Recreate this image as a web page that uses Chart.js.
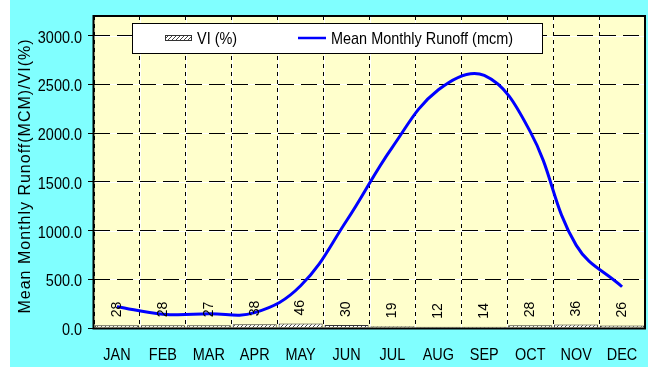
<!DOCTYPE html>
<html>
<head>
<meta charset="utf-8">
<script src="https://cdn.jsdelivr.net/npm/chart.js@4.4.1/dist/chart.umd.min.js"></script>
<style>
  html, body { margin: 0; padding: 0; background: #ffffff; }
  canvas { display: block; }
</style>
</head>
<body>
<canvas id="c" width="648" height="367"></canvas>
<script>
// Monthly categories
const months = ['JAN', 'FEB', 'MAR', 'APR', 'MAY', 'JUN', 'JUL', 'AUG', 'SEP', 'OCT', 'NOV', 'DEC'];
// Variability index per month (%)
const viPercent = [28, 28, 27, 38, 46, 30, 19, 12, 14, 28, 36, 26];
// Mean monthly runoff (mcm)
const runoffMcm = [218, 142, 146, 158, 433, 1100, 1856, 2443, 2590, 2014, 850, 423];
// Value axis ticks
const yTickValues = [0, 500, 1000, 1500, 2000, 2500, 3000];

const FONT = "'Liberation Sans', Arial, sans-serif";
const NARROW = 0.85;          // horizontal squeeze for the tall, narrow lettering
const CYAN = '#80ffff';
const PLOT_BG = '#ffffcc';

const canvas = document.getElementById('c');
const ctx = canvas.getContext('2d');

// Diagonal hatch used for the VI bars
function makeHatch() {
  const p = document.createElement('canvas');
  p.width = 4; p.height = 4;
  const g = p.getContext('2d');
  g.fillStyle = '#ffffff';
  g.fillRect(0, 0, 4, 4);
  g.strokeStyle = '#444444';
  g.lineWidth = 1;
  g.beginPath();
  g.moveTo(0, 4); g.lineTo(4, 0);
  g.moveTo(-1, 1); g.lineTo(1, -1);
  g.moveTo(3, 5); g.lineTo(5, 3);
  g.stroke();
  return ctx.createPattern(p, 'repeat');
}
const hatch = makeHatch();

// Text with a horizontal squeeze
function squeezed(c, text, x, y, align, size, sx) {
  c.save();
  c.translate(x, y);
  c.scale(sx, 1);
  c.font = size + 'px ' + FONT;
  c.textAlign = align;
  c.textBaseline = 'alphabetic';
  c.fillText(text, 0, 0);
  c.restore();
}

const decor = {
  id: 'decor',
  beforeDraw(chart) {
    const c = chart.ctx, a = chart.chartArea;
    c.save();
    c.fillStyle = '#ffffff';
    c.fillRect(0, 0, chart.width, chart.height);
    c.fillStyle = CYAN;
    c.fillRect(10, 0, chart.width - 10, chart.height);
    c.fillStyle = PLOT_BG;
    c.fillRect(a.left, a.top, a.right - a.left, a.bottom - a.top);
    // white underlay so the dashed grid shows white gaps
    c.strokeStyle = '#ffffff';
    c.lineWidth = 1;
    const ys = chart.scales.y, xs = chart.scales.x;
    yTickValues.forEach(v => {
      const py = Math.round(ys.getPixelForValue(v)) + 0.5;
      c.beginPath(); c.moveTo(a.left, py); c.lineTo(a.right, py); c.stroke();
    });
    for (let i = 1; i < months.length; i++) {
      const px = Math.round((xs.getPixelForValue(i - 1) + xs.getPixelForValue(i)) / 2) + 0.5;
      c.beginPath(); c.moveTo(px, a.top); c.lineTo(px, a.bottom); c.stroke();
    }
    c.restore();
  },
  afterDatasetsDraw(chart) {
    const c = chart.ctx, a = chart.chartArea;
    const ys = chart.scales.y, xs = chart.scales.x;
    c.save();
    c.fillStyle = '#000000';

    // rotated VI value labels above each bar
    const meta = chart.getDatasetMeta(0);
    meta.data.forEach((el, i) => {
      c.save();
      c.translate(el.x, el.y - 8);
      c.rotate(-Math.PI / 2);
      c.font = '14px ' + FONT;
      c.textAlign = 'left';
      c.textBaseline = 'middle';
      c.fillText(String(viPercent[i]), 0, 0);
      c.restore();
    });

    // legend box
    c.fillStyle = '#ffffff';
    c.fillRect(132, 23, 410, 30);
    c.strokeStyle = '#000000';
    c.lineWidth = 1;
    c.strokeRect(132.5, 23.5, 410, 30);
    c.fillStyle = hatch;
    c.fillRect(165, 35, 27, 6);
    c.strokeStyle = '#333333';
    c.strokeRect(165.5, 35.5, 26, 5);
    c.fillStyle = '#000000';
    squeezed(c, 'VI (%)', 197, 44, 'left', 17, NARROW);
    c.strokeStyle = '#0000ff';
    c.lineWidth = 2.5;
    c.beginPath(); c.moveTo(298, 38); c.lineTo(326, 38); c.stroke();
    squeezed(c, 'Mean Monthly Runoff (mcm)', 331, 44, 'left', 17, NARROW);

    // plot frame
    c.strokeStyle = '#000000';
    c.lineWidth = 2;
    c.strokeRect(a.left - 0.5, a.top, a.right - a.left + 0.5, a.bottom - a.top + 0.5);

    // axis tick labels
    yTickValues.forEach(v => {
      squeezed(c, v.toFixed(1), a.left - 12, Math.round(ys.getPixelForValue(v)) + 6.5, 'right', 17, NARROW);
    });
    months.forEach((m, i) => {
      squeezed(c, m, xs.getPixelForValue(i), 360, 'center', 17, NARROW);
    });

    // vertical axis title
    c.save();
    c.translate(30, 176);
    c.rotate(-Math.PI / 2);
    c.font = '16px ' + FONT;
    c.letterSpacing = '1px';
    c.textAlign = 'center';
    c.textBaseline = 'alphabetic';
    c.fillText('Mean Monthly Runoff(MCM)/VI(%)', 0, 0);
    c.restore();
    c.restore();
  }
};

new Chart(ctx, {
  data: {
    labels: months,
    datasets: [
      {
        type: 'bar',
        label: 'VI (%)',
        data: viPercent,
        backgroundColor: hatch,
        borderColor: '#333333',
        borderWidth: 1,
        barPercentage: 0.96,
        categoryPercentage: 1.0,
        order: 2
      },
      {
        type: 'line',
        label: 'Mean Monthly Runoff (mcm)',
        data: runoffMcm,
        borderColor: '#0000ff',
        borderWidth: 3,
        pointRadius: 0,
        tension: 0.4,
        fill: false,
        order: 1
      }
    ]
  },
  options: {
    responsive: false,
    animation: false,
    devicePixelRatio: 1,
    layout: { padding: { left: 0, right: 3, top: 16, bottom: 0 } },
    plugins: {
      legend: { display: false },
      tooltip: { enabled: false },
      title: { display: false }
    },
    scales: {
      x: {
        offset: true,
        afterFit: s => { s.height = 39; },
        grid: { offset: true, color: '#000000', lineWidth: 1, drawTicks: false },
        border: { display: false, dash: [4, 4] },
        ticks: { display: false }
      },
      y: {
        min: 0,
        max: 3200,
        afterBuildTicks: s => { s.ticks = yTickValues.map(v => ({ value: v })); },
        afterFit: s => { s.width = 94; },
        grid: { color: '#000000', lineWidth: 1, drawTicks: true, tickLength: 6, tickColor: '#000000', tickWidth: 1 },
        border: { display: false, dash: [16, 7] },
        ticks: { display: false }
      }
    }
  },
  plugins: [decor]
});
</script>
</body>
</html>
